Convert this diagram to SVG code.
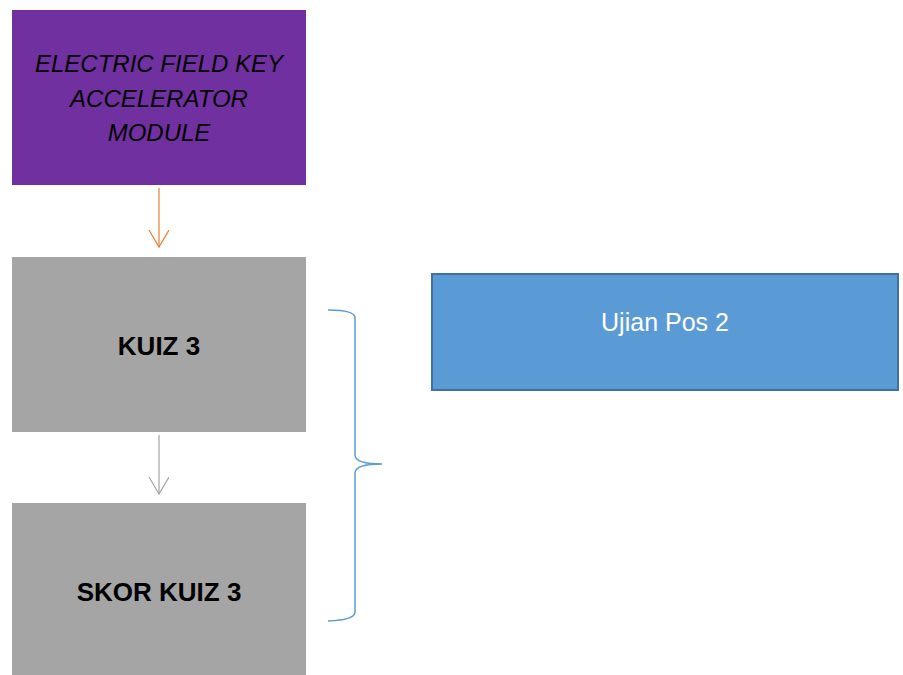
<svg xmlns="http://www.w3.org/2000/svg" width="903" height="675" viewBox="0 0 903 675">
<style>
.lbl{font-family:"Liberation Sans",Arial,sans-serif;text-anchor:middle}
.gray{fill:#A5A5A5}
.b{font-weight:bold;font-size:26px;fill:#000}
</style>
<defs>
<marker id="ao" markerWidth="24" markerHeight="24" refX="17" refY="10" markerUnits="userSpaceOnUse" orient="auto" viewBox="0 0 24 24">
<path d="M0,0 L17,10 L0,20" fill="none" stroke="#ED7D31" stroke-width="1.2"/>
</marker>
<marker id="ag" markerWidth="24" markerHeight="24" refX="17" refY="10" markerUnits="userSpaceOnUse" orient="auto" viewBox="0 0 24 24">
<path d="M0,0 L17,10 L0,20" fill="none" stroke="#A5A5A5" stroke-width="1.2"/>
</marker>
</defs>
<rect width="903" height="675" fill="#fff"/>
<g id="connectors">
<line x1="159" y1="188" x2="159" y2="247" stroke="#ED7D31" stroke-width="1.2" marker-end="url(#ao)"/>
<line x1="159" y1="435" x2="159" y2="494" stroke="#A5A5A5" stroke-width="1.2" marker-end="url(#ag)"/>
<path d="M328,310 Q355,310 355,318 L355,455 Q355,464 382,464 Q355,464 355,473 L355,612 Q355,620 328,621" fill="none" stroke="#5B9BD5" stroke-width="1.5"/>
</g>
<g id="module">
<rect x="12" y="10" width="294" height="175" fill="#7030A0"/>
<text class="lbl" font-style="italic" font-size="24" fill="#000"><tspan x="159" y="72">ELECTRIC FIELD KEY</tspan><tspan x="159" y="107">ACCELERATOR</tspan><tspan x="159" y="141">MODULE</tspan></text>
</g>
<g id="kuiz3">
<rect class="gray" x="12" y="257" width="294" height="175"/>
<text class="lbl b" x="159" y="355">KUIZ 3</text>
</g>
<g id="skor">
<rect class="gray" x="12" y="503" width="294" height="175"/>
<text class="lbl b" x="159" y="601">SKOR KUIZ 3</text>
</g>
<g id="ujian">
<rect x="432" y="274" width="466" height="116" fill="#5B9BD5" stroke="#41719C" stroke-width="2"/>
<text class="lbl" x="665" y="331" font-size="25" fill="#fff">Ujian Pos 2</text>
</g>
</svg>
